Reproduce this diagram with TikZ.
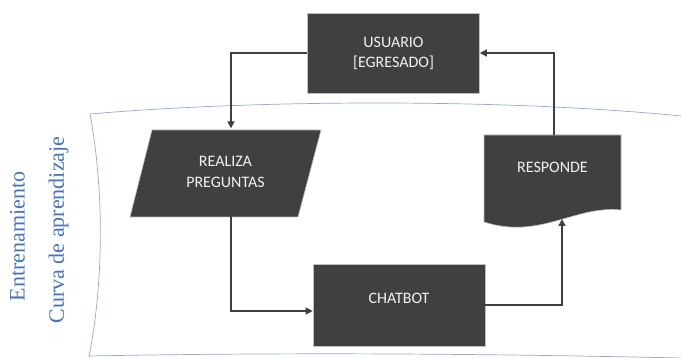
\documentclass[tikz,border=0pt]{standalone}
\usepackage{fontspec}
\setmainfont{Carlito}
\newfontfamily\labelfont{Liberation Serif}
\usetikzlibrary{arrows.meta}
\definecolor{boxfill}{HTML}{404040}
\definecolor{boxline}{HTML}{BFBFBF}
\definecolor{linkcol}{HTML}{404040}
\definecolor{framecol}{HTML}{8EA9DB}
\definecolor{labelcol}{HTML}{4472C4}
\definecolor{boxtext}{HTML}{EEF2F6}
\tikzset{
  procbox/.style={draw=boxline, line width=0.6pt, fill=boxfill, text=boxtext,
    font=\fontsize{16}{20}\selectfont, align=center, inner sep=0pt},
  shapefill/.style={draw=boxline, line width=0.6pt, fill=boxfill},
  boxlabel/.style={text=boxtext, font=\fontsize{16}{21}\selectfont, align=center, inner sep=0pt},
  link/.style={draw=linkcol, line width=1.4pt, -{Triangle[length=7pt,width=7pt]}},
  frameline/.style={draw=framecol, line width=0.7pt},
  sidelabel/.style={text=labelcol, font=\labelfont\fontsize{22}{26}\selectfont, rotate=90, inner sep=0pt}
}
\begin{document}
\begin{tikzpicture}[x=1pt,y=-1pt]
\useasboundingbox (0,0) rectangle (681,358);
% frame
\draw[frameline] (89,357) .. controls (104,280) and (104,190) .. (90,114)
  .. controls (250,100) and (500,98) .. (681,116);
\draw[frameline] (89,356) .. controls (300,352) and (500,354) .. (681,358);
% side labels
\node[sidelabel] (entren) at (17.5,236.5) {Entrenamiento};
\node[sidelabel] (curva) at (58.5,230) {Curva de aprendizaje};
% usuario
\node[procbox, minimum width=172pt, minimum height=80pt] (usuario) at (393.5,53) {USUARIO\\{[EGRESADO]}};
% realiza preguntas
\fill[shapefill] (152,130) -- (321,130) -- (298,217) -- (130,217) -- cycle;
\node[boxlabel, minimum width=191pt, minimum height=87pt] (pregunta) at (225.5,172) {REALIZA\\PREGUNTAS};
% chatbot
\node[procbox, minimum width=172pt, minimum height=82pt, text depth=13pt] (chatbot) at (399,305) {CHATBOT};
% responde (document shape)
\fill[shapefill] (484,135) -- (621,135) -- (621,210)
  .. controls (575,205) and (540,240) .. (484,222) -- cycle;
\node[boxlabel] (responde) at (552.5,167) {RESPONDE};
\coordinate (resptop) at (554,135);
\coordinate (respbot) at (562,219);
% connectors
\draw[link] (usuario.west) -| ([xshift=5.5pt]pregunta.north);
\draw[link] ([xshift=5.5pt]pregunta.south) |- ([yshift=-6pt]chatbot.west);
\draw[link] (chatbot.east) -| (respbot);
\draw[link] (resptop) |- (usuario.east);
\end{tikzpicture}
\end{document}
